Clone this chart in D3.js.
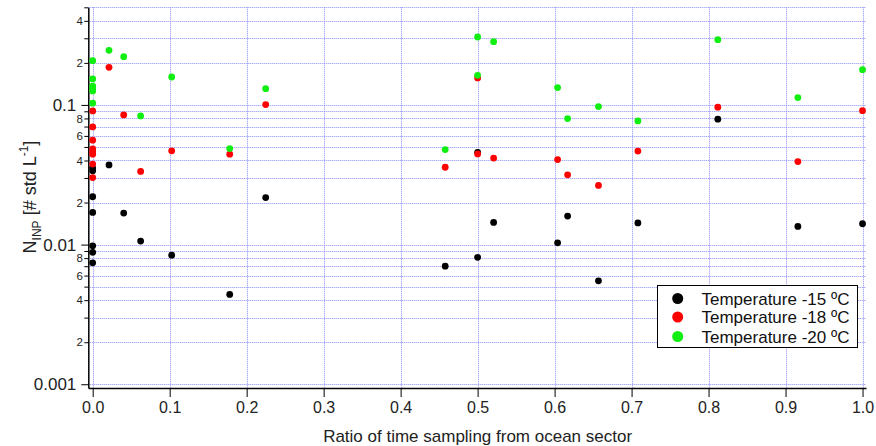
<!DOCTYPE html>
<html>
<head>
<meta charset="utf-8">
<script src="https://cdn.jsdelivr.net/npm/d3@7/dist/d3.min.js"></script>
<style>
  html, body { margin: 0; padding: 0; background: #fff; }
  svg { display: block; font-family: "Liberation Sans", Arial, sans-serif; }
</style>
</head>
<body>
<svg id="chart" width="876" height="446"></svg>
<script>
// ---- data ----
const seriesNames = ["Temperature -15 \u00BAC", "Temperature -18 \u00BAC", "Temperature -20 \u00BAC"];
const seriesColors = ["#000000", "#ff0000", "#11ee11"];

const x15 = [0, 0, 0, 0, 0, 0, 0, 0.0212, 0.0403, 0.0623, 0.1026, 0.178, 0.2247, 0.4579, 0.5, 0.5, 0.5208, 0.6039, 0.6169, 0.657, 0.7082, 0.812, 0.916, 1.0];
const y15 = [0.0353, 0.0338, 0.0220, 0.0170, 0.0098, 0.0088, 0.0074, 0.0372, 0.0168, 0.0106, 0.0084, 0.0044, 0.0217, 0.0070, 0.0458, 0.0081, 0.0144, 0.0103, 0.0160, 0.0055, 0.0143, 0.0790, 0.0135, 0.0141];

const x18 = [0, 0, 0, 0, 0, 0, 0, 0, 0.0212, 0.0403, 0.0623, 0.1026, 0.178, 0.2247, 0.4579, 0.5, 0.5, 0.5208, 0.6039, 0.6169, 0.657, 0.7082, 0.812, 0.916, 1.0];
const y18 = [0.0906, 0.0696, 0.0559, 0.0485, 0.0464, 0.0444, 0.0377, 0.0302, 0.186, 0.0848, 0.0334, 0.0469, 0.0444, 0.1005, 0.0358, 0.156, 0.0446, 0.0416, 0.0406, 0.0316, 0.0265, 0.0467, 0.0963, 0.0393, 0.091];

const x20 = [0, 0, 0, 0, 0, 0, 0.0212, 0.0403, 0.0623, 0.1026, 0.178, 0.2247, 0.4579, 0.5, 0.5, 0.5208, 0.6039, 0.6169, 0.657, 0.7082, 0.812, 0.916, 1.0];
const y20 = [0.2075, 0.1534, 0.136, 0.131, 0.126, 0.103, 0.246, 0.2216, 0.0834, 0.1585, 0.0487, 0.1308, 0.0479, 0.3065, 0.163, 0.2837, 0.133, 0.0798, 0.0973, 0.0768, 0.293, 0.1128, 0.1788];

const xTickValues = [0, 0.1, 0.2, 0.3, 0.4, 0.5, 0.6, 0.7, 0.8, 0.9, 1.0];
const yMajorTicks = [0.001, 0.01, 0.1];
const yMinorTicks = [0.002,0.003,0.004,0.005,0.006,0.007,0.008,0.009,
                     0.02,0.03,0.04,0.05,0.06,0.07,0.08,0.09,
                     0.2,0.3,0.4,0.5];
const yMinorLabelled = [0.002,0.004,0.006,0.008,0.02,0.04,0.06,0.08,0.2,0.4];
const xTitle = "Ratio of time sampling from ocean sector";

// ---- layout ----
const svg = d3.select("#chart");
const plotLeft = 88.3, plotRight = 866, plotTop = 7.3, plotBottom = 388;

const x = d3.scaleLinear().domain([-0.0057, 1.0045]).range([plotLeft, plotRight]);
const y = d3.scaleLog().domain([0.00094, 0.5]).range([plotBottom, plotTop]);

const gridColor = "#8c8cff";

// horizontal grid
const gridG = svg.append("g");
gridG.selectAll("line.h").data(yMajorTicks.concat(yMinorTicks)).join("line")
  .attr("class", "h")
  .attr("x1", plotLeft).attr("x2", plotRight)
  .attr("y1", d => Math.round(y(d)) + 0.5).attr("y2", d => Math.round(y(d)) + 0.5)
  .attr("stroke", gridColor).attr("stroke-width", 1).attr("stroke-dasharray", "1,1");
// vertical grid
gridG.selectAll("line.v").data(xTickValues).join("line")
  .attr("class", "v")
  .attr("x1", d => Math.round(x(d)) + 0.5).attr("x2", d => Math.round(x(d)) + 0.5)
  .attr("y1", plotTop).attr("y2", plotBottom)
  .attr("stroke", gridColor).attr("stroke-width", 1).attr("stroke-dasharray", "1,1");

// x axis
const xAxis = d3.axisBottom(x).tickValues(xTickValues).tickFormat(d3.format(".1f"))
  .tickSizeInner(9).tickSizeOuter(0).tickPadding(5);
const xg = svg.append("g").attr("transform", `translate(0,${plotBottom})`).call(xAxis);
xg.select(".domain").attr("stroke", "#000").attr("stroke-width", 1.5);
xg.selectAll(".tick line").attr("stroke", "#000").attr("stroke-width", 1);
xg.selectAll(".tick text").attr("font-size", 16).attr("fill", "#222")
  .attr("font-family", "Liberation Sans, Arial, sans-serif");

// y axis major
const yAxisMajor = d3.axisLeft(y).tickValues(yMajorTicks).tickFormat(d => String(d))
  .tickSizeInner(7).tickSizeOuter(0).tickPadding(5);
const yg = svg.append("g").attr("transform", `translate(${plotLeft},0)`).call(yAxisMajor);
yg.select(".domain").attr("stroke", "#000").attr("stroke-width", 1.5);
yg.selectAll(".tick line").attr("stroke", "#000").attr("stroke-width", 1);
yg.selectAll(".tick text").attr("font-size", 17).attr("fill", "#222")
  .attr("font-family", "Liberation Sans, Arial, sans-serif");

// y axis minor
const yAxisMinor = d3.axisLeft(y).tickValues(yMinorTicks)
  .tickFormat(d => yMinorLabelled.some(v => Math.abs(v - d) < 1e-9) ? String(Math.round(d / Math.pow(10, Math.floor(Math.log10(d) + 1e-9)))) : "")
  .tickSizeInner(4).tickSizeOuter(0).tickPadding(1.5);
const ygm = svg.append("g").attr("transform", `translate(${plotLeft},0)`).call(yAxisMinor);
ygm.select(".domain").remove();
ygm.selectAll(".tick line").attr("stroke", "#000").attr("stroke-width", 1);
ygm.selectAll(".tick text").attr("font-size", 11.5).attr("fill", "#222")
  .attr("font-family", "Liberation Sans, Arial, sans-serif");

// axis titles
svg.append("text").attr("x", (x(0) + x(1)) / 2).attr("y", 442)
  .attr("text-anchor", "middle").attr("font-size", 17).attr("fill", "#222").text(xTitle);

const yt = svg.append("text")
  .attr("transform", "translate(36,197) rotate(-90)")
  .attr("text-anchor", "middle").attr("font-size", 18).attr("fill", "#222");
yt.append("tspan").text("N");
yt.append("tspan").attr("font-size", 12).attr("dy", 5).text("INP");
yt.append("tspan").attr("dy", -5).text(" [# std L");
yt.append("tspan").attr("font-size", 12).attr("dy", -8).text("-1");
yt.append("tspan").attr("dy", 8).text("]");

// points
const series = [
  {xs: x15, ys: y15},
  {xs: x18, ys: y18},
  {xs: x20, ys: y20}
];
series.forEach((s, i) => {
  const pts = s.xs.map((xv, j) => ({x: xv, y: s.ys[j]}));
  svg.append("g").selectAll("circle").data(pts).join("circle")
    .attr("cx", d => x(d.x)).attr("cy", d => y(d.y)).attr("r", 3.4)
    .attr("fill", seriesColors[i]);
});

// legend
const lg = svg.append("g");
lg.append("rect").attr("x", 657.5).attr("y", 285.5).attr("width", 200).attr("height", 62)
  .attr("fill", "#fff").attr("stroke", "#000").attr("stroke-width", 1);
const legY = [298.5, 317, 336.5];
seriesNames.forEach((name, i) => {
  lg.append("circle").attr("cx", 677.7).attr("cy", legY[i]).attr("r", 5.5).attr("fill", seriesColors[i]);
  lg.append("text").attr("x", 701.5).attr("y", legY[i] + 6).attr("font-size", 17)
    .attr("fill", "#111").text(name);
});
</script>
</body>
</html>
